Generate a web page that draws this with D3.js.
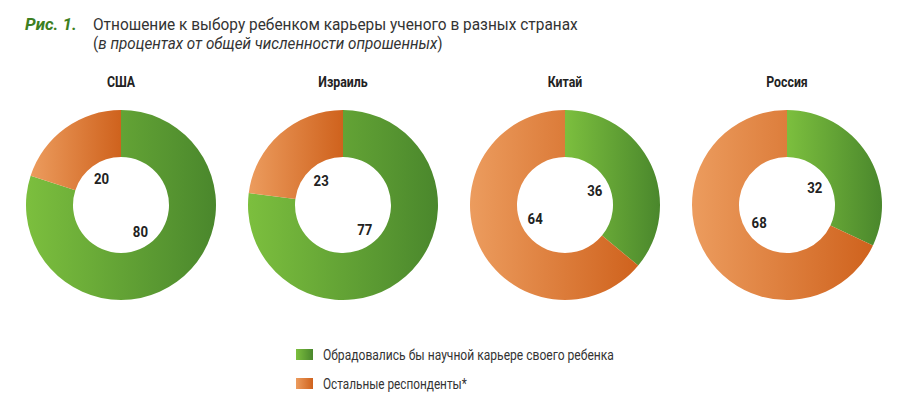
<!DOCTYPE html>
<html>
<head>
<meta charset="utf-8">
<script src="https://cdn.jsdelivr.net/npm/d3@7"></script>
<style>
  body { margin: 0; background: #fff; }
  text { font-family: "Liberation Sans Narrow", "Roboto", "Liberation Sans", sans-serif; }
</style>
</head>
<body>
<div id="chart"></div>
<script>
let svgWidth = 900;
let svgHeight = 398;

// data
let countries = ["США", "Израиль", "Китай", "Россия"];
let happy = [80, 77, 36, 32];
let others = [20, 23, 64, 68];
let seriesNames = ["Обрадовались бы научной карьере своего ребенка", "Остальные респонденты*"];

let svg = d3.select("#chart")
            .append("svg")
            .attr("width", svgWidth)
            .attr("height", svgHeight);

// squeeze a text horizontally so it fits the width seen in the reference
function fitWidth(sel, w) {
    let cur = sel.node().getComputedTextLength();
    let x0 = +sel.attr("x");
    sel.attr("transform", `translate(${x0}, 0) scale(${w / cur}, 1) translate(${-x0}, 0)`);
}

// horizontal gradients, light on the left, dark on the right
let defs = svg.append("defs");
let grads = [
    { id: "gGreen", from: "#7cbf3e", to: "#4a872c" },
    { id: "gOrange", from: "#ec9c5e", to: "#cf621d" }
];
grads.forEach(g => {
    let lg = defs.append("linearGradient").attr("id", g.id)
        .attr("x1", "0%").attr("x2", "100%").attr("y1", "0%").attr("y2", "0%");
    lg.append("stop").attr("offset", "0%").attr("stop-color", g.from);
    lg.append("stop").attr("offset", "100%").attr("stop-color", g.to);
});
let fills = ["url(#gGreen)", "url(#gOrange)"];

// Title
svg.append("text").attr("x", 25).attr("y", 30).attr("font-size", 17)
    .attr("font-weight", "bold").attr("font-style", "italic")
    .attr("fill", "#3d7f22")
    .text("Рис. 1.");
let t1 = svg.append("text").attr("x", 93).attr("y", 30).attr("font-size", 17).attr("fill", "#333")
    .text("Отношение к выбору ребенком карьеры ученого в разных странах");
fitWidth(t1, 485);
let sub = svg.append("text").attr("x", 93).attr("y", 49).attr("font-size", 17).attr("fill", "#333");
sub.append("tspan").text("(");
sub.append("tspan").attr("font-style", "italic").text("в процентах от общей численности опрошенных");
sub.append("tspan").text(")");
fitWidth(sub, 350);

// Donut layout
let x = d3.scalePoint().domain(countries).range([121, 787]);
let cy = 205;
let outerR = 95;
let innerR = 48;

let pie = d3.pie().sort(null).value(d => d);
let arc = d3.arc().innerRadius(innerR).outerRadius(outerR);
let labelArc = d3.arc().innerRadius(33).outerRadius(33);

countries.forEach((c, i) => {
    let g = svg.append("g").attr("transform", `translate(${x(c)}, ${cy})`);

    let ct = g.append("text")
        .attr("x", 0)
        .attr("y", -118)
        .attr("text-anchor", "middle")
        .attr("font-weight", "bold")
        .attr("font-size", 14)
        .attr("fill", "#222")
        .text(c);
    ct.attr("transform", "scale(0.88, 1)");

    let slices = pie([happy[i], others[i]]);

    g.selectAll("path")
        .data(slices)
        .enter()
        .append("path")
        .attr("d", arc)
        .attr("fill", (d, j) => fills[j]);

    g.selectAll("text.val")
        .data(slices)
        .enter()
        .append("text")
        .attr("class", "val")
        .attr("transform", d => `translate(${labelArc.centroid(d)}) scale(0.88, 1)`)
        .attr("text-anchor", "middle")
        .attr("dy", "0.35em")
        .attr("font-weight", "bold")
        .attr("font-size", 15)
        .attr("fill", "#222")
        .text(d => d.data);
});

// Legend
let legendWidths = [291, 144];
let legend = svg.append("g").attr("transform", "translate(296, 349)");
seriesNames.forEach((s, j) => {
    legend.append("rect")
        .attr("x", 0).attr("y", j * 29)
        .attr("width", 17).attr("height", 11)
        .attr("fill", fills[j]);
    let lt = legend.append("text")
        .attr("x", 27).attr("y", j * 29 + 11)
        .attr("font-size", 15)
        .attr("fill", "#333")
        .text(s);
    fitWidth(lt, legendWidths[j]);
});
</script>
</body>
</html>
